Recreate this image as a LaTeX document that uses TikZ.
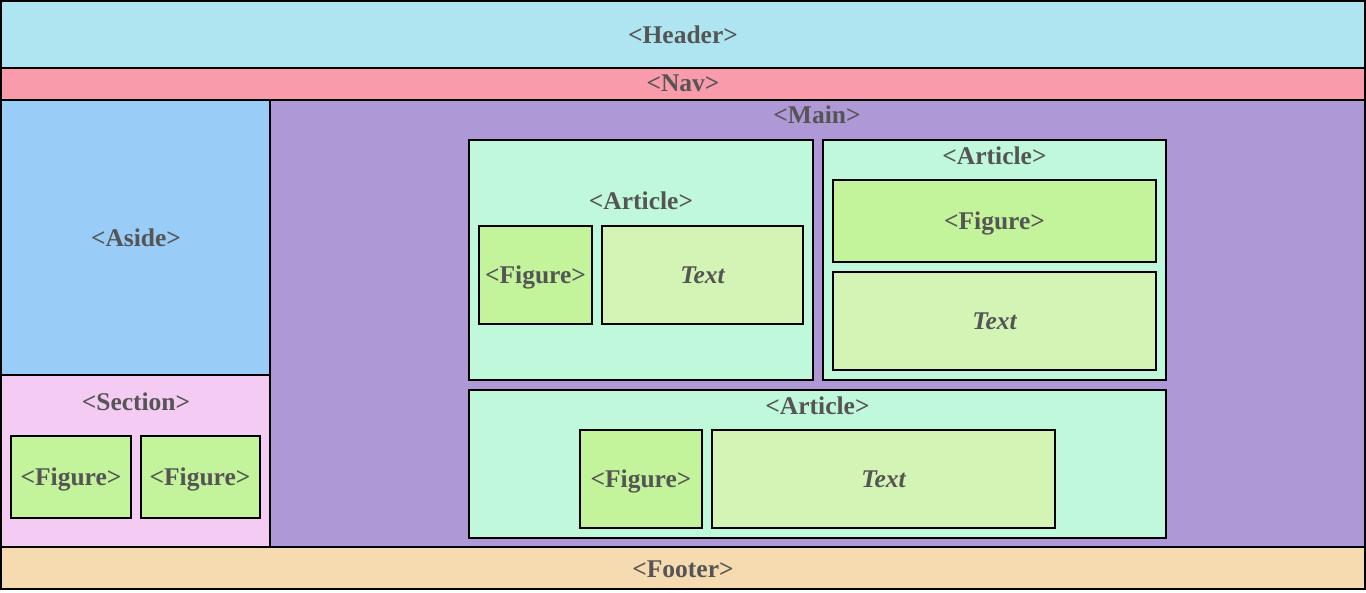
\documentclass[tikz,border=0pt]{standalone}
\usepackage{fontspec}
\setmainfont{Liberation Serif}
\definecolor{cHeader}{HTML}{AFE5F1}
\definecolor{cNav}{HTML}{F99BAA}
\definecolor{cAside}{HTML}{99CCF7}
\definecolor{cSection}{HTML}{F4CBF2}
\definecolor{cMain}{HTML}{AE98D6}
\definecolor{cArticle}{HTML}{C0F8DB}
\definecolor{cFigure}{HTML}{C3F39A}
\definecolor{cText}{HTML}{D4F4B6}
\definecolor{cFooter}{HTML}{F6DBB0}
\definecolor{cLabel}{HTML}{555555}
\tikzset{
  box/.style={draw=black, line width=2pt},
  lbl/.style={text=cLabel, font=\fontsize{25.5}{25.5}\selectfont\bfseries, inner sep=0pt, anchor=base},
  itl/.style={lbl, font=\fontsize{25.5}{25.5}\selectfont\bfseries\itshape},
}
\begin{document}
\begin{tikzpicture}[x=1pt,y=-1pt]
\useasboundingbox (0,0) rectangle (1366,593);
% top level
\draw[box, fill=cHeader] (1,1) rectangle (1365,68);
\draw[box, fill=cNav] (1,68) rectangle (1365,100);
\draw[box, fill=cAside] (1,100) rectangle (270,375);
\draw[box, fill=cSection] (1,375) rectangle (270,547);
\draw[box, fill=cMain] (270,100) rectangle (1365,547);
\draw[box, fill=cFooter] (1,547) rectangle (1365,589);
% section figures
\draw[box, fill=cFigure] (11,436) rectangle (131,518);
\draw[box, fill=cFigure] (141,436) rectangle (260,518);
% article 1
\draw[box, fill=cArticle] (469,140) rectangle (813,380);
\draw[box, fill=cFigure] (479,226) rectangle (592,324);
\draw[box, fill=cText] (602,226) rectangle (803,324);
% article 2
\draw[box, fill=cArticle] (823,140) rectangle (1166,380);
\draw[box, fill=cFigure] (833,180) rectangle (1156,262);
\draw[box, fill=cText] (833,272) rectangle (1156,370);
% article 3
\draw[box, fill=cArticle] (469,390) rectangle (1166,538);
\draw[box, fill=cFigure] (580,430) rectangle (702,528);
\draw[box, fill=cText] (712,430) rectangle (1055,528);
% labels
\node[lbl] (lheader) at (683,43.5) {<Header>};
\node[lbl] (lnav) at (683,91.5) {<Nav>};
\node[lbl] (lmain) at (817,123.5) {<Main>};
\node[lbl] (laside) at (136,246.5) {<Aside>};
\node[lbl] (lsection) at (136,410.5) {<Section>};
\node[lbl] (lsf1) at (71,485.5) {<Figure>};
\node[lbl] (lsf2) at (200,485.5) {<Figure>};
\node[lbl] (la1) at (641,209.5) {<Article>};
\node[lbl] (la1f) at (535.5,283.5) {<Figure>};
\node[itl] (la1t) at (702.5,283.5) {Text};
\node[lbl] (la2) at (994.5,164.5) {<Article>};
\node[lbl] (la2f) at (994.5,229.5) {<Figure>};
\node[itl] (la2t) at (994.5,329.5) {Text};
\node[lbl] (la3) at (817.5,414.5) {<Article>};
\node[lbl] (la3f) at (641,487.5) {<Figure>};
\node[itl] (la3t) at (883.5,487.5) {Text};
\node[lbl] (lfooter) at (683,577.5) {<Footer>};
\end{tikzpicture}
\end{document}
